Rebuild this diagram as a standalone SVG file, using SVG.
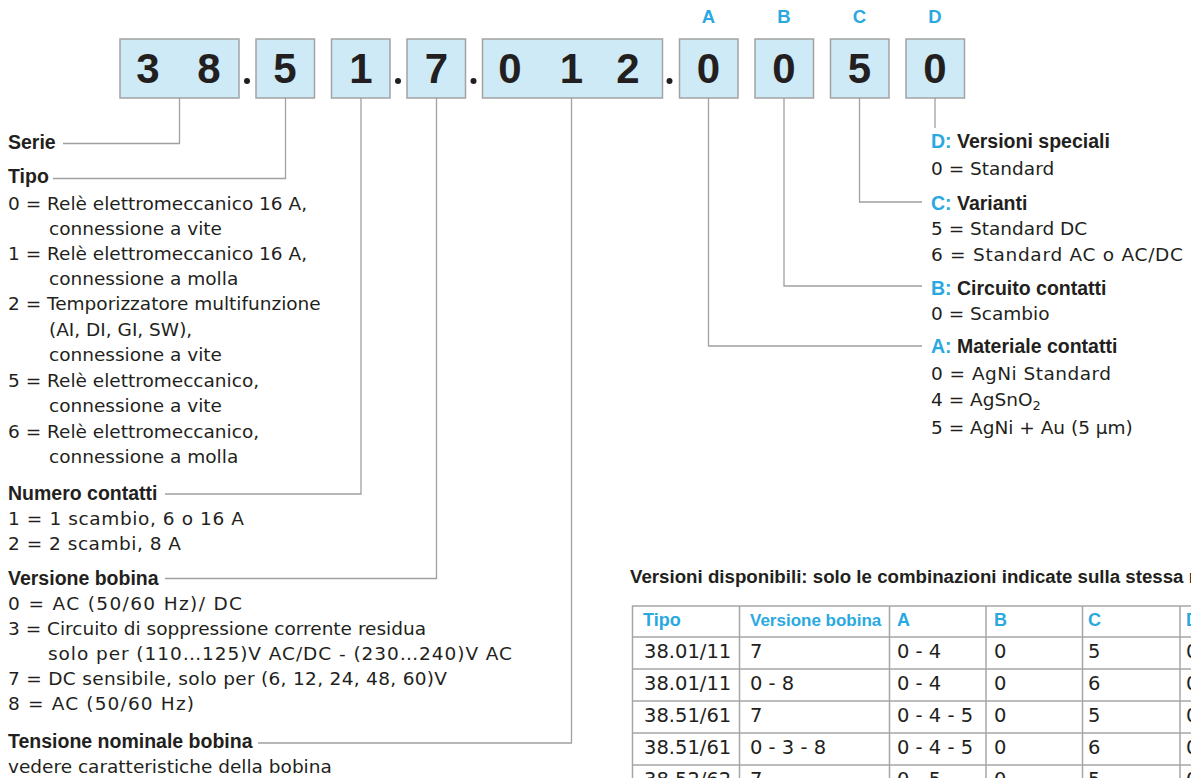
<svg xmlns="http://www.w3.org/2000/svg" width="1191" height="778" viewBox="0 0 1191 778">
<style>
.box{fill:#cdeaf6;stroke:#a3a3a3;stroke-width:1.5}
.dig{font-family:"Liberation Sans",Arial,sans-serif;font-weight:bold;font-size:42px;fill:#231f20;text-anchor:middle}
.lbl{font-family:"Liberation Sans",Arial,sans-serif;font-weight:bold;font-size:18.5px;fill:#29a9e0;text-anchor:middle}
.dot{fill:#231f20}
.t{font-family:"DejaVu Sans",sans-serif;font-size:18.5px;fill:#231f20}
.h{font-family:"Liberation Sans",Arial,sans-serif;font-weight:bold;font-size:19.5px;fill:#231f20}
.c{fill:#29a9e0}
.ln{fill:none;stroke:#a0a0a0;stroke-width:1.3}
.th{font-family:"Liberation Sans",Arial,sans-serif;font-weight:bold;font-size:18px;fill:#29a9e0}
.th2{font-size:17px}
.td{font-family:"DejaVu Sans",sans-serif;font-size:19.5px;fill:#231f20}
.grid{stroke:#a6a6a6;stroke-width:1.5;fill:none}
.title{font-family:"Liberation Sans",Arial,sans-serif;font-weight:bold;font-size:18.7px;fill:#231f20}
</style>

<g id="code">
  <g id="box-serie"><rect class="box" x="120" y="39" width="119" height="59"/><text class="dig" x="148" y="83">3</text><text class="dig" x="209" y="83">8</text></g>
  <circle class="dot" cx="247" cy="81" r="3"/>
  <g id="box-tipo"><rect class="box" x="256" y="39" width="58.5" height="59"/><text class="dig" x="285" y="83">5</text></g>
  <g id="box-contatti"><rect class="box" x="331.5" y="39" width="58.5" height="59"/><text class="dig" x="361" y="83">1</text></g>
  <circle class="dot" cx="398" cy="81" r="3"/>
  <g id="box-bobina"><rect class="box" x="407" y="39" width="58.5" height="59"/><text class="dig" x="436.5" y="83">7</text></g>
  <circle class="dot" cx="473.5" cy="81" r="3"/>
  <g id="box-tensione"><rect class="box" x="482.5" y="39" width="180" height="59"/><text class="dig" x="510" y="83">0</text><text class="dig" x="571.5" y="83">1</text><text class="dig" x="628" y="83">2</text></g>
  <circle class="dot" cx="669.5" cy="81" r="3"/>
  <g id="box-a"><text class="lbl" x="708.5" y="23">A</text><rect class="box" x="679.5" y="39" width="58.5" height="59"/><text class="dig" x="708.5" y="83">0</text></g>
  <g id="box-b"><text class="lbl" x="784" y="23">B</text><rect class="box" x="755" y="39" width="58.5" height="59"/><text class="dig" x="784" y="83">0</text></g>
  <g id="box-c"><text class="lbl" x="859.5" y="23">C</text><rect class="box" x="830.5" y="39" width="58.5" height="59"/><text class="dig" x="859.5" y="83">5</text></g>
  <g id="box-d"><text class="lbl" x="935" y="23">D</text><rect class="box" x="906" y="39" width="58.5" height="59"/><text class="dig" x="935" y="83">0</text></g>
</g>

<g id="connectors">
  <path class="ln" d="M179.5 98 V143.5 H63"/>
  <path class="ln" d="M285.5 98 V178.5 H53"/>
  <path class="ln" d="M361 98 V494 H165"/>
  <path class="ln" d="M436.5 98 V578.5 H165"/>
  <path class="ln" d="M571.5 98 V743 H258"/>
  <path class="ln" d="M708.5 98 V346 H922"/>
  <path class="ln" d="M784 98 V286 H922"/>
  <path class="ln" d="M859.5 98 V202 H922"/>
  <path class="ln" d="M935 98 V128"/>
</g>

<g id="serie"><text class="h" x="8" y="149">Serie</text></g>

<g id="tipo">
  <text class="h" x="8" y="183">Tipo</text>
  <text class="t" x="8" y="210">0 = Relè elettromeccanico 16 A,</text>
  <text class="t" x="49" y="235">connessione a vite</text>
  <text class="t" x="8" y="260">1 = Relè elettromeccanico 16 A,</text>
  <text class="t" x="49" y="285">connessione a molla</text>
  <text class="t" x="8" y="310">2 = Temporizzatore multifunzione</text>
  <text class="t" x="49" y="335.5">(AI, DI, GI, SW),</text>
  <text class="t" x="49" y="361">connessione a vite</text>
  <text class="t" x="8" y="386.5">5 = Relè elettromeccanico,</text>
  <text class="t" x="49" y="412">connessione a vite</text>
  <text class="t" x="8" y="437.5">6 = Relè elettromeccanico,</text>
  <text class="t" x="49" y="463">connessione a molla</text>
</g>

<g id="numero-contatti">
  <text class="h" x="8" y="500">Numero contatti</text>
  <text class="t" x="8" y="525" textLength="236" lengthAdjust="spacing">1 = 1 scambio, 6 o 16 A</text>
  <text class="t" x="8" y="550" textLength="173" lengthAdjust="spacing">2 = 2 scambi, 8 A</text>
</g>

<g id="versione-bobina">
  <text class="h" x="8" y="585">Versione bobina</text>
  <text class="t" x="8" y="610" textLength="234" lengthAdjust="spacing">0 = AC (50/60 Hz)/ DC</text>
  <text class="t" x="8" y="635">3 = Circuito di soppressione corrente residua</text>
  <text class="t" x="48" y="660" textLength="464" lengthAdjust="spacing">solo per (110…125)V AC/DC - (230…240)V AC</text>
  <text class="t" x="8" y="685" textLength="439" lengthAdjust="spacing">7 = DC sensibile, solo per (6, 12, 24, 48, 60)V</text>
  <text class="t" x="8" y="710" textLength="186" lengthAdjust="spacing">8 = AC (50/60 Hz)</text>
</g>

<g id="tensione-nominale">
  <text class="h" x="8" y="748">Tensione nominale bobina</text>
  <text class="t" x="8" y="773">vedere caratteristiche della bobina</text>
</g>

<g id="versioni-speciali">
  <text class="h" x="931" y="148"><tspan class="c">D:</tspan> Versioni speciali</text>
  <text class="t" x="931" y="175">0 = Standard</text>
</g>
<g id="varianti">
  <text class="h" x="931" y="210"><tspan class="c">C:</tspan> Varianti</text>
  <text class="t" x="931" y="235">5 = Standard DC</text>
  <text class="t" x="931" y="261" textLength="252" lengthAdjust="spacing">6 = Standard AC o AC/DC</text>
</g>
<g id="circuito-contatti">
  <text class="h" x="931" y="295"><tspan class="c">B:</tspan> Circuito contatti</text>
  <text class="t" x="931" y="320">0 = Scambio</text>
</g>
<g id="materiale-contatti">
  <text class="h" x="931" y="353"><tspan class="c">A:</tspan> Materiale contatti</text>
  <text class="t" x="931" y="380" textLength="180" lengthAdjust="spacing">0 = AgNi Standard</text>
  <text class="t" x="931" y="406">4 = AgSnO<tspan font-size="13" dy="4">2</tspan></text>
  <text class="t" x="931" y="434">5 = AgNi + Au (5 μm)</text>
</g>

<g id="tabella">
  <text class="title" x="630" y="583">Versioni disponibili: solo le combinazioni indicate sulla stessa riga</text>
  <rect class="grid" x="632.5" y="606" width="600" height="220" stroke-width="2.5"/>
  <path class="grid" d="M632.5 637 H1191 M632.5 669 H1191 M632.5 701 H1191 M632.5 733 H1191 M632.5 765 H1191 M739.5 606 V778 M889.5 606 V778 M986 606 V778 M1082.5 606 V778 M1180 606 V778"/>
  <text class="th" x="643" y="626">Tipo</text>
  <text class="th th2" x="750" y="626">Versione bobina</text>
  <text class="th" x="897" y="626">A</text>
  <text class="th" x="994" y="626">B</text>
  <text class="th" x="1088" y="626">C</text>
  <text class="th" x="1186" y="626">D</text>
  <g class="td">
    <text x="644" y="658">38.01/11</text><text x="750" y="658">7</text><text x="897" y="658">0 - 4</text><text x="994" y="658">0</text><text x="1088" y="658">5</text><text x="1186" y="658">0</text>
    <text x="644" y="690">38.01/11</text><text x="750" y="690">0 - 8</text><text x="897" y="690">0 - 4</text><text x="994" y="690">0</text><text x="1088" y="690">6</text><text x="1186" y="690">0</text>
    <text x="644" y="722">38.51/61</text><text x="750" y="722">7</text><text x="897" y="722">0 - 4 - 5</text><text x="994" y="722">0</text><text x="1088" y="722">5</text><text x="1186" y="722">0</text>
    <text x="644" y="754">38.51/61</text><text x="750" y="754">0 - 3 - 8</text><text x="897" y="754">0 - 4 - 5</text><text x="994" y="754">0</text><text x="1088" y="754">6</text><text x="1186" y="754">0</text>
    <text x="644" y="786">38.52/62</text><text x="750" y="786">7</text><text x="897" y="786">0 - 5</text><text x="994" y="786">0</text><text x="1088" y="786">5</text><text x="1186" y="786">0</text>
  </g>
</g>
</svg>
